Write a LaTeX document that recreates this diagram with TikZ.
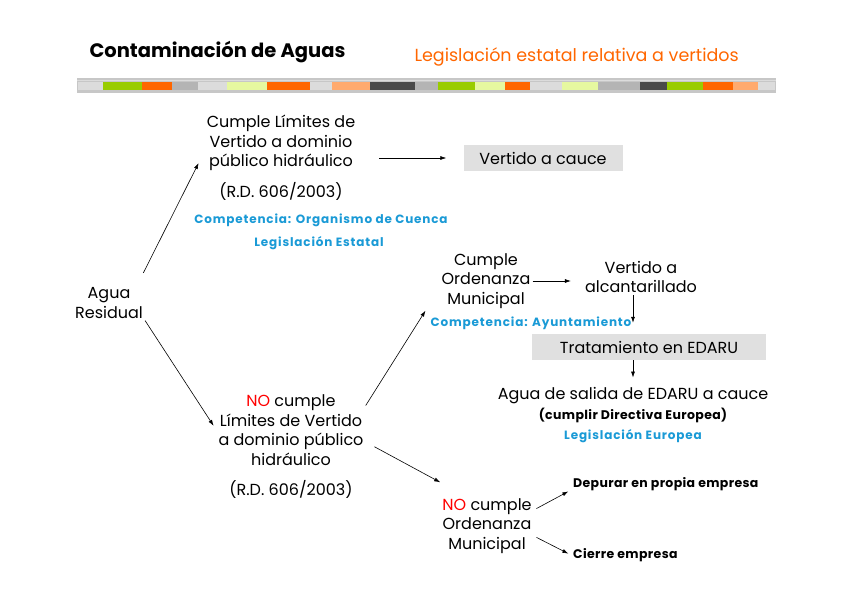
\documentclass[tikz,border=0pt]{standalone}
\usepackage{fontspec}
\setmainfont{Poppins}
\newfontfamily\spacedfont[LetterSpace=7]{Poppins}
\newfontfamily\widefont[LetterSpace=3]{Poppins}
\usetikzlibrary{arrows.meta,positioning,calc}
\definecolor{ttlorange}{RGB}{255,102,0}
\definecolor{legblue}{RGB}{26,154,214}
\definecolor{nored}{RGB}{255,0,0}
\definecolor{boxgray}{RGB}{224,224,224}
\definecolor{bargreen}{RGB}{153,204,0}
\definecolor{barpale}{RGB}{230,248,160}
\definecolor{barpeach}{RGB}{255,170,110}
\definecolor{bardark}{RGB}{74,74,74}
\definecolor{barmid}{RGB}{180,180,180}
\definecolor{barlight}{RGB}{220,220,220}

\begin{document}
\begin{tikzpicture}[x=1pt, y=-1pt,
    txt/.style={align=center, font=\fontsize{16}{19.5}\selectfont, inner sep=2pt},
    note/.style={align=center, font=\spacedfont\bfseries\fontsize{12}{14}\selectfont, text=legblue, inner sep=1pt},
    small/.style={font=\widefont\bfseries\fontsize{12.5}{14}\selectfont, inner sep=2pt},
    graybox/.style={fill=boxgray, minimum height=26pt, inner sep=0pt, font=\fontsize{16}{18}\selectfont},
    arrow/.style={-{Latex[length=6pt,width=4pt]}, semithick}
  ]
    \useasboundingbox (0,0) rectangle (848,599);

    % header
    \node[anchor=west, font=\bfseries\fontsize{19.5}{21}\selectfont] (title) at (86,52) {Contaminación de Aguas};
    \node[anchor=west, text=ttlorange, font=\fontsize{17.5}{19}\selectfont] (subtitle) at (411,57) {Legislación estatal relativa a vertidos};

    % stripe
    \fill[barmid!75] (77,78) rectangle (776,93);
    \fill[barlight] (77,80) rectangle (776,81);
    \foreach \xa/\xb/\col in {78/103/barlight, 103/142/bargreen, 142/172/ttlorange, 172/198/barmid,
        198/227/barlight, 227/267/barpale, 267/310/ttlorange, 310/332/barlight, 332/370/barpeach,
        370/415/bardark, 415/438/barmid, 438/475/bargreen, 475/505/barpale, 505/530/ttlorange,
        530/562/barlight, 562/598/barpale, 598/640/barmid, 640/667/bardark, 667/703/bargreen,
        703/733/ttlorange, 733/758/barpeach, 758/775/barlight}
      \fill[\col] (\xa,82) rectangle (\xb,90);

    % upper branch
    \node[txt] (agua) at (109,303) {Agua\\Residual};
    \node[txt] (lim) at (281,143) {Cumple Límites de\\Vertido a dominio\\público hidráulico};
    \node[txt] (rdone) at (281,191) {(R.D. 606/2003)};
    \node[note] (compone) at (321,220) {Competencia: Organismo de Cuenca};
    \node[note] (legone) at (319,243) {Legislación Estatal};
    \node[graybox, minimum width=159pt] (cauce) at (543,158) {Vertido a cauce};

    % lower branch
    \node[txt] (nolim) at (291,430) {{\color{nored}NO} cumple\\Límites de Vertido\\a dominio público\\hidráulico};
    \node[txt] (rdtwo) at (291,489) {(R.D. 606/2003)};
    \node[txt] (ord) at (486,281) {Cumple\\Ordenanza\\Municipal};
    \node[txt] (alc) at (641,277) {Vertido a\\alcantarillado};
    \node[note] (comptwo) at (531,323) {Competencia: Ayuntamiento};
    \node[graybox, minimum width=234pt] (edaru) at (649,347) {Tratamiento en EDARU};
    \node[txt] (salida) at (633,396) {Agua de salida de EDARU a cauce};
    \node[small] (directiva) at (633,415) {(cumplir Directiva Europea)};
    \node[note] (legtwo) at (633,436) {Legislación Europea};
    \node[txt] (noord) at (487,526) {{\color{nored}NO} cumple\\Ordenanza\\Municipal};
    \node[small, anchor=west] (depurar) at (571,484) {Depurar en propia empresa};
    \node[small, anchor=west] (cierre) at (571,555) {Cierre empresa};

    % connectors
    \draw[arrow, shorten <=14pt] ([xshift=-8pt]agua.north east) -- ([shift={(-6pt,10pt)}]lim.south west);
    \draw[arrow, shorten >=5pt] (agua.south east) -- (nolim.west);
    \draw[arrow, shorten <=22pt, shorten >=17pt] (cauce.west -| lim.east) -- (cauce.west);
    \draw[arrow] ([yshift=-13pt]nolim.north east) -- ([xshift=-14pt]ord.south west);
    \draw[arrow, shorten >=12pt] (ord.east) -- (ord.east -| alc.west);
    \draw[arrow, shorten >=11pt] (alc.south -| salida.north) -- (edaru.north -| salida.north);
    \draw[arrow, shorten >=8pt] (edaru.south -| salida.north) -- (salida.north);
    \draw[arrow, shorten <=10pt] ([yshift=-12pt]nolim.east) -- ([yshift=14pt]noord.north west);
    \draw[arrow, shorten <=3pt, shorten >=3pt] ([yshift=16pt]noord.east) -- ([yshift=-6pt]depurar.west);
    \draw[arrow, shorten <=3pt, shorten >=3pt] ([yshift=-10pt]noord.east) -- (cierre.west);
  \end{tikzpicture}
\end{document}
